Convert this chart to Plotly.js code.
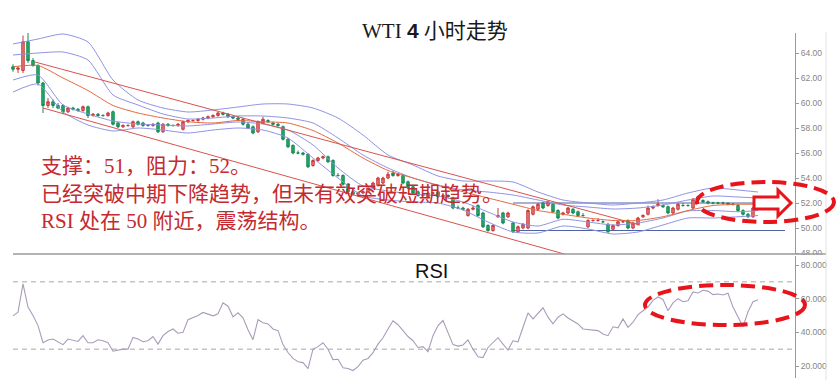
<!DOCTYPE html>
<html>
<head>
<meta charset="utf-8">
<script src="https://cdn.plot.ly/plotly-3.0.1.min.js"></script>
<style>html,body{margin:0;padding:0;background:#fff;}#chart{width:840px;height:386px;}</style>
</head>
<body>
<div id="chart"></div>
<script>
// ---------- DATA ----------
const opens = [62.9,62.7,62.6,64.9,63.4,63.0,61.6,59.8,60.1,59.8, 59.8,59.3,59.6,59.5,59.4,59.7,59.0,59.1,59.0,59.0, 59.3,58.4,58.1,58.2,58.1,58.5,58.4,58.2,58.2,58.4, 57.7,58.3,58.2,58.2,57.9,58.5,58.6,58.6,58.7,58.8, 58.9,59.0,59.2,59.1,58.9,58.8,58.7,58.3,58.1,57.7, 58.4,58.6,58.4,58.3,58.1,57.1,56.6,56.0,56.0,55.9, 55.0,55.4,55.6,55.7,55.4,54.2,54.2,53.5,52.9,52.7, 52.8,52.9,53.2,53.4,53.6,54.0,54.4,54.2,54.2,53.7, 53.3,52.9,52.6,52.5,52.8,52.9,52.5,52.6,52.4,51.6, 51.6,51.0,51.5,51.8,51.2,50.2,49.8,50.9,51.2,50.9, 50.4,49.7,50.0,50.0,51.1,51.5,52.0,51.8,51.9,51.4, 51.1,51.2,51.5,51.3,51.0,50.1,50.6,50.6,50.5,50.3, 49.9,50.2,50.5,50.6,50.0,50.3,50.9,51.1,51.6,51.8, 51.8,51.7,51.2,51.5,51.8,51.8,51.6,52.3,52.2,52.1, 52.0,52.0,52.0,52.0,51.9,51.8,51.4,51.1,50.9,51.6];
const highs = [63.1,62.9,65.4,65.7,63.6,63.1,61.7,60.4,60.3,60.0, 59.9,59.7,59.7,59.6,59.8,59.8,59.2,59.2,59.1,59.3, 59.4,58.5,58.3,58.3,58.6,58.6,58.5,58.3,58.4,58.5, 58.4,58.4,58.3,58.4,58.6,58.7,58.7,58.8,58.9,59.0, 59.1,59.3,59.3,59.2,59.0,58.9,58.8,58.4,58.2,58.6, 58.9,58.7,58.5,58.4,58.2,57.2,56.7,56.2,56.1,56.0, 55.5,55.7,55.8,55.8,55.5,54.4,54.3,53.6,53.0,52.9, 53.0,53.3,53.7,54.1,54.1,54.5,54.6,54.4,54.3,53.8, 53.4,53.0,52.8,52.9,52.9,53.0,52.7,52.7,52.5,51.8, 51.7,51.6,51.8,51.9,51.3,50.3,50.3,51.6,51.3,51.3, 50.5,50.2,50.4,51.5,51.8,52.0,52.1,52.2,52.0,51.5, 51.3,51.7,51.6,51.4,51.2,50.7,50.7,50.8,50.6,50.4, 50.3,50.6,50.6,50.7,50.5,50.9,51.1,51.8,51.8,52.3, 51.9,51.8,51.7,52.0,52.0,51.9,52.4,52.6,52.3,52.2, 52.1,52.1,52.1,52.0,52.0,51.9,51.5,51.2,51.7,52.1];
const lows = [62.5,62.4,62.4,63.2,62.9,61.4,59.2,59.6,59.6,59.5, 59.1,59.2,59.4,59.3,59.3,58.8,58.9,58.9,58.9,58.9, 58.2,58.0,58.0,58.1,58.0,58.2,58.1,58.1,58.1,57.6, 57.6,58.1,58.1,58.1,57.8,58.4,58.5,58.5,58.6,58.7, 58.8,58.9,59.0,58.8,58.7,58.6,58.2,57.9,57.5,57.6, 58.3,58.4,58.2,58.1,57.0,56.4,55.9,55.9,55.8,54.8, 54.9,55.3,55.5,55.2,54.1,54.1,53.4,52.8,52.6,52.6, 52.7,52.8,53.1,53.3,53.5,53.9,54.1,54.1,53.5,53.1, 52.7,52.5,52.5,52.4,52.7,52.4,52.4,52.4,51.5,51.5, 51.4,50.9,51.4,50.9,50.0,49.7,49.7,50.8,50.3,50.8, 49.6,49.6,49.9,49.9,51.0,51.4,51.5,51.7,51.2,50.7, 51.0,51.1,51.1,50.9,50.9,50.0,50.5,50.5,50.4,49.6, 49.8,50.1,50.4,49.9,49.9,50.2,50.8,51.0,51.5,51.7, 51.6,51.1,51.1,51.4,51.7,51.7,51.5,52.2,52.0,51.9, 51.9,51.9,51.9,51.8,51.8,51.3,51.0,50.8,50.8,51.5];
const closes = [62.7,62.8,64.9,63.4,63.0,61.6,59.8,60.1,59.8,59.6, 59.3,59.6,59.5,59.4,59.7,59.0,59.1,59.0,59.0,59.2, 58.3,58.1,58.2,58.2,58.5,58.3,58.2,58.2,58.3,57.7, 58.3,58.2,58.2,58.3,58.5,58.6,58.6,58.7,58.8,58.9, 59.0,59.2,59.1,58.9,58.8,58.7,58.3,58.0,57.6,58.5, 58.7,58.5,58.3,58.2,57.1,56.5,56.0,56.0,55.9,54.9, 55.4,55.6,55.7,55.3,54.2,54.2,53.5,52.9,52.7,52.8, 52.9,53.2,53.6,54.0,54.0,54.3,54.2,54.3,53.6,53.2, 52.8,52.6,52.6,52.8,52.8,52.5,52.6,52.5,51.6,51.6, 51.5,51.5,51.6,51.0,50.1,49.8,50.2,51.0,50.4,51.2, 49.7,50.1,50.3,51.4,51.7,51.9,51.6,52.1,51.3,50.8, 51.2,51.6,51.2,51.0,51.0,50.6,50.6,50.6,50.5,49.7, 50.2,50.5,50.5,50.0,50.4,50.8,51.0,51.6,51.7,51.9, 51.7,51.2,51.6,51.9,51.8,51.8,52.3,52.5,52.1,52.0, 52.0,52.0,52.0,51.9,51.9,51.4,51.1,50.9,51.6,52.0];

const rsi = [49.8,52,68.8,55,50,44,33.8,35.5,36,34.5, 32.7,36,35.4,34.6,38,33.8,33.8,35.6,35,33.8, 28.8,29.6,30,30,37,36,34.4,35,37.5,33, 38,40.5,42,39.5,40,47.5,48.6,50,51.8,51, 49.8,51,57.5,55.5,49.2,51.6,48.6,41.5,35.6,47.5, 45.7,45,42,41,32.7,28,24.5,22.5,22,18.5, 30,31.5,33.8,30,23.8,24,19,18.5,17.3,19.6, 23.5,24.5,27.9,33,36.8,42,46.9,44.5,41,37.5, 35,31,31.5,28.5,38,44,47,40,32.7,31.8, 32.5,35.5,30,25.5,25,31,34,36.8,33,29.5, 35,34.4,43,51.6,48,51.5,54.6,49,45,49, 51,48.5,46.5,45,42,41.8,41.4,41,39,38, 43.3,42.7,48,43,46,50.5,52.8,55,59,61, 59.5,52.8,57.5,60,58.2,58.8,64,63.4,65,64.5, 62.4,62.8,62.2,63.2,55,49,43.3,52.2,58.2,59.3];

// Bollinger-type bands and moving average, sampled at candle indices
const bandIdx   = [0,5,10,15,20,25,30,35,40,45,50,55,60,65,70,75,80,85,90,95,100,105,110,115,120,125,130,135,140,145,149];
const upperOuter = [64.72,65.12,65.52,64.88,61.84,60.24,59.6,59.28,59.44,59.68,59.92,59.92,59.6,58.8,57.44,55.84,55.04,54.16,53.76,53.76,53.68,52.88,52.24,52.0,51.84,52.0,52.24,52.8,53.2,53.04,52.88];
const upperInner = [63.84,64.0,64.08,63.44,60.64,59.84,59.12,58.72,58.8,58.96,58.96,58.8,58.4,57.2,55.84,54.8,54.0,53.44,53.04,52.88,52.64,52.24,51.84,51.68,51.52,51.6,51.84,52.24,52.56,52.48,52.4];
const movingAvg  = [62.9,63.0,62.0,61.0,59.8,59.2,58.8,58.5,58.4,58.6,58.5,58.4,57.8,56.8,55.6,54.6,54.0,53.4,52.9,52.4,51.9,51.4,51.1,50.8,50.6,50.6,50.9,51.4,51.8,51.9,51.9];
const lowerInner = [61.84,62.24,59.84,59.12,58.56,58.32,58.24,58.16,58.32,58.48,58.32,57.84,56.64,54.8,53.36,52.96,52.72,52.56,52.08,51.28,50.48,50.16,50.7,50.48,50.24,50.4,50.8,51.36,51.4,51.3,51.4];
const lowerOuter = [60.88,61.52,59.28,58.24,57.76,58.0,57.84,57.6,57.84,58.0,57.84,57.2,55.6,54.0,52.56,52.24,52.08,52.0,51.44,50.48,49.68,49.6,50.16,49.92,49.52,49.68,50.24,50.8,50.8,50.9,51.0];

// Down-trend channel lines (candle index, price)
const chanUpperX = [4.4, 125.4];
const chanUpperY = [63.28, 50.24];
const chanLowerX = [6, 112.4];
const chanLowerY = [59.6, 47.68];

// Horizontal support / resistance and RSI reference levels
const priceLevels = [52.0, 49.8];
const levelFrom = 100, levelTo = 154.4;
const rsiLevels = [70, 30];

const priceTicks = [48,50,52,54,56,58,60,62,64];
const rsiTicks = [20,40,60,80];

// ---------- LAYOUT HELPERS ----------
const W = 840, H = 386, ML = 10, MR = 45, MT = 33, MB = 8;
const PW = W - ML - MR, PH = H - MT - MB;
const PX = x => (x - ML) / PW;
const PY = y => (H - MB - y) / PH;

const idx = closes.map((_, i) => i);
const BAND = '#8e92e2', RED = '#d9534f', DRED = '#e8141c';

const traces = [];
[upperOuter, upperInner, lowerInner, lowerOuter].forEach(arr => traces.push({
  type: 'scatter', mode: 'lines', x: bandIdx, y: arr, xaxis: 'x', yaxis: 'y',
  line: {color: BAND, width: 1, shape: 'spline', smoothing: 0.6}, hoverinfo: 'skip', showlegend: false
}));
traces.push({type: 'scatter', mode: 'lines', x: bandIdx, y: movingAvg, xaxis: 'x', yaxis: 'y',
  line: {color: '#e4683c', width: 1, shape: 'spline', smoothing: 0.6}, hoverinfo: 'skip', showlegend: false});
traces.push({type: 'scatter', mode: 'lines', x: chanUpperX, y: chanUpperY, xaxis: 'x', yaxis: 'y',
  line: {color: RED, width: 1}, hoverinfo: 'skip', showlegend: false});
traces.push({type: 'scatter', mode: 'lines', x: chanLowerX, y: chanLowerY, xaxis: 'x', yaxis: 'y',
  line: {color: RED, width: 1}, hoverinfo: 'skip', showlegend: false});
traces.push({
  type: 'candlestick', x: idx, open: opens, high: highs, low: lows, close: closes,
  xaxis: 'x', yaxis: 'y', showlegend: false, whiskerwidth: 0,
  increasing: {line: {color: '#c8393a', width: 1}, fillcolor: '#e27b78'},
  decreasing: {line: {color: '#178a55', width: 1}, fillcolor: '#26a96b'}
});
traces.push({type: 'scatter', mode: 'lines', x: idx, y: rsi, xaxis: 'x', yaxis: 'y2',
  line: {color: '#a99cb9', width: 1.1}, hoverinfo: 'skip', showlegend: false});

const shapes = [];
priceLevels.forEach(v => shapes.push({type: 'line', xref: 'x', yref: 'y', x0: levelFrom, x1: levelTo, y0: v, y1: v,
  line: {color: '#4f64a6', width: 1}, layer: 'below'}));
rsiLevels.forEach(v => shapes.push({type: 'line', xref: 'paper', yref: 'y2', x0: PX(13), x1: 1, y0: v, y1: v,
  line: {color: '#a8a8a8', width: 1, dash: '5px,4px'}, layer: 'below'}));
// separator between panels and right border
shapes.push({type: 'line', xref: 'paper', yref: 'paper', x0: PX(13), x1: PX(826), y0: PY(254), y1: PY(254),
  line: {color: '#9a9a9a', width: 1.5}});
shapes.push({type: 'line', xref: 'paper', yref: 'paper', x0: PX(826), x1: PX(826), y0: PY(32), y1: PY(380),
  line: {color: '#e2e2e2', width: 1}});
// masks to clip tick labels like the reference
shapes.push({type: 'rect', xref: 'paper', yref: 'paper', x0: PX(827), x1: PX(840), y0: PY(386), y1: PY(256),
  fillcolor: '#fff', line: {width: 0}});
shapes.push({type: 'rect', xref: 'paper', yref: 'paper', x0: PX(797), x1: PX(826), y0: PY(259), y1: PY(255),
  fillcolor: '#fff', line: {width: 0}});
// dashed ellipses
shapes.push({type: 'circle', xref: 'paper', yref: 'paper', x0: PX(697), x1: PX(834), y0: PY(222), y1: PY(182),
  line: {color: DRED, width: 4, dash: '14px,7px'}});
shapes.push({type: 'circle', xref: 'paper', yref: 'paper', x0: PX(645), x1: PX(805), y0: PY(325), y1: PY(285),
  line: {color: DRED, width: 4, dash: '14px,7px'}});
// hollow arrow
const arrowPts = [[754,197],[778,197],[778,190],[791,203],[778,216],[778,209],[754,209]];
shapes.push({type: 'path', xref: 'paper', yref: 'paper',
  path: 'M' + arrowPts.map(p => PX(p[0]).toFixed(5) + ',' + PY(p[1]).toFixed(5)).join(' L') + ' Z',
  fillcolor: '#ffffff', line: {color: DRED, width: 3}});

const CJK = "'Liberation Serif','Noto Sans CJK SC',serif";
const noteFont = {family: CJK, size: 21, color: '#c42a2f'};
const annotations = [
  {xref: 'paper', yref: 'paper', x: PX(435), y: PY(31), xanchor: 'center', yanchor: 'middle', showarrow: false,
   text: 'WTI <span style="font-family:\'Liberation Sans\',Arial;font-weight:bold">4</span> 小时走势',
   font: {family: CJK, size: 21, color: '#1a1a1a'}},
  {xref: 'paper', yref: 'paper', x: PX(431), y: PY(271), xanchor: 'center', yanchor: 'middle', showarrow: false,
   text: 'RSI', font: {family: "'Liberation Sans',Arial,sans-serif", size: 20, color: '#111'}},
  {xref: 'paper', yref: 'paper', x: PX(39), y: PY(166), xanchor: 'left', yanchor: 'middle', showarrow: false,
   text: '支撑：51，阻力：52。', font: noteFont},
  {xref: 'paper', yref: 'paper', x: PX(39), y: PY(194), xanchor: 'left', yanchor: 'middle', showarrow: false,
   text: '已经突破中期下降趋势，但未有效突破短期趋势。', font: noteFont},
  {xref: 'paper', yref: 'paper', x: PX(39), y: PY(221), xanchor: 'left', yanchor: 'middle', showarrow: false,
   text: 'RSI 处在 50 附近，震荡结构。', font: noteFont}
];

const tickFont = {family: "'Liberation Sans',Arial,sans-serif", size: 8.5, color: '#858585'};
const layout = {
  width: W, height: H, margin: {l: ML, r: MR, t: MT, b: MB, pad: 0},
  paper_bgcolor: '#fff', plot_bgcolor: '#fff', showlegend: false,
  xaxis: {range: [-0.6, 156.4], visible: false, rangeslider: {visible: false}, fixedrange: true, anchor: 'y2'},
  yaxis: {domain: [PY(254), 1], range: [47.92, 65.6], side: 'right', anchor: 'x',
    showline: true, linecolor: '#999', linewidth: 1, showgrid: false, zeroline: false,
    ticks: 'outside', ticklen: 3, tickcolor: '#999', tickvals: priceTicks, tickformat: '.2f', tickfont: tickFont},
  yaxis2: {domain: [0, PY(256)], range: [12.87, 85.35], side: 'right', anchor: 'x',
    showline: true, linecolor: '#999', linewidth: 1, showgrid: false, zeroline: false,
    ticks: 'outside', ticklen: 3, tickcolor: '#999', tickvals: rsiTicks, tickformat: '.4f', tickfont: tickFont},
  shapes: shapes, annotations: annotations
};

Plotly.newPlot('chart', traces, layout, {staticPlot: true, displayModeBar: false});
</script>
</body>
</html>
